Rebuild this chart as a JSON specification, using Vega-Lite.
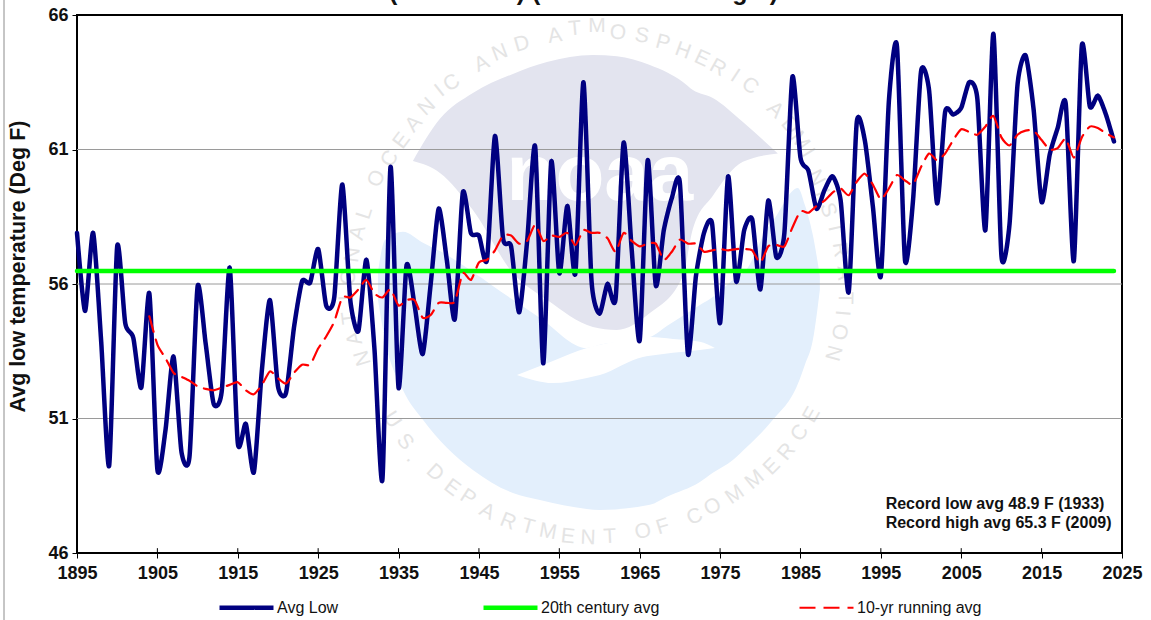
{"$schema":"https://vega.github.io/schema/vega-lite/v6.json","width":1045,"height":538,"autosize":{"type":"none"},"padding":{"left":77,"top":15,"right":29,"bottom":67},"background":"white",
"title":{"text":"(1895-2024) (Normal 56.48 deg F)","fontSize":25,"font":"Liberation Sans","fontWeight":"bold","color":"#111111","anchor":"middle","offset":-6,"dx":-16},
"config":{"view":{"stroke":"#000000","strokeWidth":2},"font":"Liberation Sans"},
"datasets":{
"blue":[{"x":1932.44,"top":56.45,"bot":55.41},{"x":1933.31,"top":57.64,"bot":53.92},{"x":1935.55,"top":57.94,"bot":52.06},{"x":1938.03,"top":57.53,"bot":50.95},{"x":1941.02,"top":57.08,"bot":49.91},{"x":1944.25,"top":56.45,"bot":49.09},{"x":1949.23,"top":55.41,"bot":48.23},{"x":1952.59,"top":54.74,"bot":47.97},{"x":1958.43,"top":53.62,"bot":47.64},{"x":1960.05,"top":53.74,"bot":47.6},{"x":1966.27,"top":54.03,"bot":47.79},{"x":1968.38,"top":54.44,"bot":48.09},{"x":1972.49,"top":55.22,"bot":48.64},{"x":1974.1,"top":55.52,"bot":48.98},{"x":1976.59,"top":56.15,"bot":49.46},{"x":1978.33,"top":56.56,"bot":49.94},{"x":1980.82,"top":58.05,"bot":50.69},{"x":1981.57,"top":58.34,"bot":50.95},{"x":1984.68,"top":59.57,"bot":52.29},{"x":1985.55,"top":58.94,"bot":53.0},{"x":1986.54,"top":57.82,"bot":53.92},{"x":1987.41,"top":56.3,"bot":55.78}],
"bird":[{"x":1949.73,"top":52.62,"bot":52.62},{"x":1954.2,"top":53.14,"bot":52.32},{"x":1958.43,"top":53.62,"bot":52.51},{"x":1960.05,"top":53.74,"bot":52.62},{"x":1965.4,"top":53.99,"bot":53.29},{"x":1966.27,"top":54.03,"bot":53.33},{"x":1969.13,"top":53.96,"bot":53.44},{"x":1972.49,"top":53.85,"bot":53.55},{"x":1974.35,"top":53.62,"bot":53.62}],
"dome":[{"x":1936.79,"top":60.57,"bot":60.57},{"x":1940.15,"top":62.14,"bot":60.13},{"x":1944.25,"top":63.1,"bot":58.75},{"x":1949.23,"top":63.81,"bot":56.41},{"x":1953.46,"top":64.25,"bot":55.41},{"x":1959.18,"top":64.51,"bot":54.4},{"x":1962.16,"top":64.47,"bot":54.29},{"x":1966.27,"top":64.14,"bot":54.92},{"x":1970.37,"top":63.51,"bot":56.3},{"x":1971.62,"top":63.21,"bot":58.05},{"x":1974.1,"top":62.91,"bot":59.28},{"x":1977.84,"top":62.02,"bot":60.54},{"x":1982.19,"top":60.85,"bot":60.85}],
"ring":[{"c":"N","x":1930.57,"y":53.25,"r":-107},{"c":"A","x":1929.58,"y":54.0,"r":-102},{"c":"T","x":1928.95,"y":54.74,"r":-97},{"c":"I","x":1928.58,"y":55.48,"r":-92},{"c":"O","x":1928.83,"y":56.26,"r":-87},{"c":"N","x":1929.33,"y":57.08,"r":-82},{"c":"A","x":1929.95,"y":57.9,"r":-77},{"c":"L","x":1930.82,"y":58.64,"r":-72},{"c":"O","x":1932.31,"y":59.91,"r":-63},{"c":"C","x":1933.93,"y":60.65,"r":-58},{"c":"E","x":1935.42,"y":61.32,"r":-53},{"c":"A","x":1936.92,"y":61.95,"r":-48},{"c":"N","x":1938.53,"y":62.58,"r":-43},{"c":"I","x":1940.15,"y":63.18,"r":-38},{"c":"C","x":1941.64,"y":63.47,"r":-33},{"c":"A","x":1945.37,"y":64.18,"r":-25},{"c":"N","x":1947.61,"y":64.59,"r":-21},{"c":"D","x":1950.35,"y":64.92,"r":-16},{"c":"A","x":1954.45,"y":65.22,"r":-9},{"c":"T","x":1956.94,"y":65.48,"r":-5},{"c":"M","x":1959.68,"y":65.59,"r":0},{"c":"O","x":1962.29,"y":65.33,"r":5},{"c":"S","x":1965.27,"y":65.22,"r":10},{"c":"P","x":1967.89,"y":64.96,"r":15},{"c":"H","x":1970.37,"y":64.66,"r":20},{"c":"E","x":1972.74,"y":64.37,"r":25},{"c":"R","x":1974.73,"y":64.03,"r":29},{"c":"I","x":1976.84,"y":63.73,"r":33},{"c":"C","x":1978.71,"y":63.36,"r":37},{"c":"A","x":1981.82,"y":62.47,"r":44},{"c":"D","x":1983.68,"y":61.88,"r":49},{"c":"M","x":1984.92,"y":61.32,"r":54},{"c":"I","x":1985.92,"y":60.87,"r":58},{"c":"N","x":1986.92,"y":59.94,"r":63},{"c":"I","x":1987.66,"y":59.39,"r":67},{"c":"S","x":1988.41,"y":58.75,"r":72},{"c":"T","x":1989.28,"y":58.08,"r":77},{"c":"R","x":1989.9,"y":57.27,"r":81},{"c":"A","x":1990.4,"y":56.41,"r":86},{"c":"T","x":1990.52,"y":55.48,"r":91},{"c":"I","x":1990.15,"y":54.92,"r":95},{"c":"O","x":1989.78,"y":54.22,"r":100},{"c":"N","x":1989.03,"y":53.44,"r":105},{"c":"U","x":1934.18,"y":50.95,"r":57},{"c":"S","x":1935.8,"y":50.13,"r":50},{"c":".","x":1936.67,"y":49.57,"r":47},{"c":"D","x":1939.53,"y":48.98,"r":42},{"c":"E","x":1941.64,"y":48.42,"r":37},{"c":"P","x":1943.63,"y":48.05,"r":33},{"c":"A","x":1946.0,"y":47.53,"r":28},{"c":"R","x":1948.61,"y":47.16,"r":22},{"c":"T","x":1951.09,"y":46.97,"r":15},{"c":"M","x":1953.58,"y":46.79,"r":10},{"c":"E","x":1956.07,"y":46.6,"r":6},{"c":"N","x":1958.56,"y":46.56,"r":2},{"c":"T","x":1961.29,"y":46.6,"r":-3},{"c":"O","x":1965.4,"y":46.79,"r":-12},{"c":"F","x":1967.89,"y":46.97,"r":-17},{"c":"C","x":1971.87,"y":47.34,"r":-25},{"c":"O","x":1974.1,"y":47.71,"r":-30},{"c":"M","x":1976.84,"y":48.16,"r":-35},{"c":"M","x":1979.33,"y":48.72,"r":-40},{"c":"E","x":1981.44,"y":49.2,"r":-45},{"c":"R","x":1983.31,"y":49.76,"r":-50},{"c":"C","x":1984.93,"y":50.46,"r":-55},{"c":"E","x":1986.42,"y":51.13,"r":-60}],
"series":[
{"year":1895,"s":"Avg Low","v":57.9},{"year":1896,"s":"Avg Low","v":55.0},{"year":1897,"s":"Avg Low","v":57.9},{"year":1898,"s":"Avg Low","v":53.9},{"year":1899,"s":"Avg Low","v":49.25},{"year":1900,"s":"Avg Low","v":57.4},{"year":1901,"s":"Avg Low","v":54.55},{"year":1902,"s":"Avg Low","v":54.0},{"year":1903,"s":"Avg Low","v":52.15},{"year":1904,"s":"Avg Low","v":55.65},{"year":1905,"s":"Avg Low","v":49.1},{"year":1906,"s":"Avg Low","v":50.55},{"year":1907,"s":"Avg Low","v":53.3},{"year":1908,"s":"Avg Low","v":49.75},{"year":1909,"s":"Avg Low","v":49.6},{"year":1910,"s":"Avg Low","v":55.9},{"year":1911,"s":"Avg Low","v":53.8},{"year":1912,"s":"Avg Low","v":51.55},{"year":1913,"s":"Avg Low","v":52.0},{"year":1914,"s":"Avg Low","v":56.6},{"year":1915,"s":"Avg Low","v":50.1},{"year":1916,"s":"Avg Low","v":50.8},{"year":1917,"s":"Avg Low","v":49.0},{"year":1918,"s":"Avg Low","v":52.8},{"year":1919,"s":"Avg Low","v":55.4},{"year":1920,"s":"Avg Low","v":52.2},{"year":1921,"s":"Avg Low","v":51.95},{"year":1922,"s":"Avg Low","v":54.4},{"year":1923,"s":"Avg Low","v":56.1},{"year":1924,"s":"Avg Low","v":56.05},{"year":1925,"s":"Avg Low","v":57.3},{"year":1926,"s":"Avg Low","v":55.2},{"year":1927,"s":"Avg Low","v":55.5},{"year":1928,"s":"Avg Low","v":59.7},{"year":1929,"s":"Avg Low","v":55.4},{"year":1930,"s":"Avg Low","v":54.25},{"year":1931,"s":"Avg Low","v":56.9},{"year":1932,"s":"Avg Low","v":53.6},{"year":1933,"s":"Avg Low","v":48.75},{"year":1934,"s":"Avg Low","v":60.35},{"year":1935,"s":"Avg Low","v":52.15},{"year":1936,"s":"Avg Low","v":56.7},{"year":1937,"s":"Avg Low","v":55.2},{"year":1938,"s":"Avg Low","v":53.4},{"year":1939,"s":"Avg Low","v":56.0},{"year":1940,"s":"Avg Low","v":58.8},{"year":1941,"s":"Avg Low","v":56.9},{"year":1942,"s":"Avg Low","v":54.7},{"year":1943,"s":"Avg Low","v":59.4},{"year":1944,"s":"Avg Low","v":57.9},{"year":1945,"s":"Avg Low","v":57.8},{"year":1946,"s":"Avg Low","v":56.9},{"year":1947,"s":"Avg Low","v":61.5},{"year":1948,"s":"Avg Low","v":57.7},{"year":1949,"s":"Avg Low","v":57.4},{"year":1950,"s":"Avg Low","v":54.95},{"year":1951,"s":"Avg Low","v":57.6},{"year":1952,"s":"Avg Low","v":61.1},{"year":1953,"s":"Avg Low","v":53.05},{"year":1954,"s":"Avg Low","v":60.55},{"year":1955,"s":"Avg Low","v":56.4},{"year":1956,"s":"Avg Low","v":58.9},{"year":1957,"s":"Avg Low","v":56.4},{"year":1958,"s":"Avg Low","v":63.5},{"year":1959,"s":"Avg Low","v":56.15},{"year":1960,"s":"Avg Low","v":54.9},{"year":1961,"s":"Avg Low","v":56.0},{"year":1962,"s":"Avg Low","v":55.45},{"year":1963,"s":"Avg Low","v":61.25},{"year":1964,"s":"Avg Low","v":57.3},{"year":1965,"s":"Avg Low","v":53.9},{"year":1966,"s":"Avg Low","v":60.6},{"year":1967,"s":"Avg Low","v":55.95},{"year":1968,"s":"Avg Low","v":58.0},{"year":1969,"s":"Avg Low","v":59.2},{"year":1970,"s":"Avg Low","v":59.75},{"year":1971,"s":"Avg Low","v":53.4},{"year":1972,"s":"Avg Low","v":56.3},{"year":1973,"s":"Avg Low","v":57.9},{"year":1974,"s":"Avg Low","v":58.25},{"year":1975,"s":"Avg Low","v":54.55},{"year":1976,"s":"Avg Low","v":60.0},{"year":1977,"s":"Avg Low","v":56.1},{"year":1978,"s":"Avg Low","v":58.0},{"year":1979,"s":"Avg Low","v":58.4},{"year":1980,"s":"Avg Low","v":55.8},{"year":1981,"s":"Avg Low","v":59.1},{"year":1982,"s":"Avg Low","v":57.0},{"year":1983,"s":"Avg Low","v":57.9},{"year":1984,"s":"Avg Low","v":63.7},{"year":1985,"s":"Avg Low","v":60.7},{"year":1986,"s":"Avg Low","v":60.2},{"year":1987,"s":"Avg Low","v":58.8},{"year":1988,"s":"Avg Low","v":59.5},{"year":1989,"s":"Avg Low","v":60.0},{"year":1990,"s":"Avg Low","v":59.1},{"year":1991,"s":"Avg Low","v":55.7},{"year":1992,"s":"Avg Low","v":62.0},{"year":1993,"s":"Avg Low","v":61.35},{"year":1994,"s":"Avg Low","v":58.9},{"year":1995,"s":"Avg Low","v":56.3},{"year":1996,"s":"Avg Low","v":62.8},{"year":1997,"s":"Avg Low","v":64.85},{"year":1998,"s":"Avg Low","v":56.9},{"year":1999,"s":"Avg Low","v":59.1},{"year":2000,"s":"Avg Low","v":63.9},{"year":2001,"s":"Avg Low","v":63.2},{"year":2002,"s":"Avg Low","v":59.0},{"year":2003,"s":"Avg Low","v":62.4},{"year":2004,"s":"Avg Low","v":62.3},{"year":2005,"s":"Avg Low","v":62.55},{"year":2006,"s":"Avg Low","v":63.5},{"year":2007,"s":"Avg Low","v":62.9},{"year":2008,"s":"Avg Low","v":58.0},{"year":2009,"s":"Avg Low","v":65.3},{"year":2010,"s":"Avg Low","v":57.05},{"year":2011,"s":"Avg Low","v":58.2},{"year":2012,"s":"Avg Low","v":63.4},{"year":2013,"s":"Avg Low","v":64.5},{"year":2014,"s":"Avg Low","v":62.5},{"year":2015,"s":"Avg Low","v":59.05},{"year":2016,"s":"Avg Low","v":60.8},{"year":2017,"s":"Avg Low","v":61.8},{"year":2018,"s":"Avg Low","v":62.7},{"year":2019,"s":"Avg Low","v":56.85},{"year":2020,"s":"Avg Low","v":64.85},{"year":2021,"s":"Avg Low","v":62.6},{"year":2022,"s":"Avg Low","v":63.0},{"year":2023,"s":"Avg Low","v":62.3},{"year":2024,"s":"Avg Low","v":61.3},
{"year":1895,"s":"20th century avg","v":56.48},{"year":2024,"s":"20th century avg","v":56.48},
{"year":1904,"s":"10-yr running avg","v":54.8},{"year":1905,"s":"10-yr running avg","v":53.75},{"year":1906,"s":"10-yr running avg","v":53.25},{"year":1907,"s":"10-yr running avg","v":52.7},{"year":1908,"s":"10-yr running avg","v":52.55},{"year":1909,"s":"10-yr running avg","v":52.4},{"year":1910,"s":"10-yr running avg","v":52.2},{"year":1911,"s":"10-yr running avg","v":52.1},{"year":1912,"s":"10-yr running avg","v":52.05},{"year":1913,"s":"10-yr running avg","v":52.15},{"year":1914,"s":"10-yr running avg","v":52.25},{"year":1915,"s":"10-yr running avg","v":52.35},{"year":1916,"s":"10-yr running avg","v":52.05},{"year":1917,"s":"10-yr running avg","v":51.9},{"year":1918,"s":"10-yr running avg","v":52.25},{"year":1919,"s":"10-yr running avg","v":52.75},{"year":1920,"s":"10-yr running avg","v":52.5},{"year":1921,"s":"10-yr running avg","v":52.3},{"year":1922,"s":"10-yr running avg","v":52.7},{"year":1923,"s":"10-yr running avg","v":53.0},{"year":1924,"s":"10-yr running avg","v":53.0},{"year":1925,"s":"10-yr running avg","v":53.6},{"year":1926,"s":"10-yr running avg","v":54.05},{"year":1927,"s":"10-yr running avg","v":54.6},{"year":1928,"s":"10-yr running avg","v":55.5},{"year":1929,"s":"10-yr running avg","v":55.5},{"year":1930,"s":"10-yr running avg","v":55.8},{"year":1931,"s":"10-yr running avg","v":56.15},{"year":1932,"s":"10-yr running avg","v":55.65},{"year":1933,"s":"10-yr running avg","v":55.5},{"year":1934,"s":"10-yr running avg","v":55.8},{"year":1935,"s":"10-yr running avg","v":55.2},{"year":1936,"s":"10-yr running avg","v":55.4},{"year":1937,"s":"10-yr running avg","v":55.4},{"year":1938,"s":"10-yr running avg","v":54.75},{"year":1939,"s":"10-yr running avg","v":54.85},{"year":1940,"s":"10-yr running avg","v":55.3},{"year":1941,"s":"10-yr running avg","v":55.3},{"year":1942,"s":"10-yr running avg","v":55.35},{"year":1943,"s":"10-yr running avg","v":56.4},{"year":1944,"s":"10-yr running avg","v":56.15},{"year":1945,"s":"10-yr running avg","v":56.8},{"year":1946,"s":"10-yr running avg","v":56.9},{"year":1947,"s":"10-yr running avg","v":57.25},{"year":1948,"s":"10-yr running avg","v":57.8},{"year":1949,"s":"10-yr running avg","v":57.8},{"year":1950,"s":"10-yr running avg","v":57.5},{"year":1951,"s":"10-yr running avg","v":57.6},{"year":1952,"s":"10-yr running avg","v":58.2},{"year":1953,"s":"10-yr running avg","v":57.6},{"year":1954,"s":"10-yr running avg","v":57.8},{"year":1955,"s":"10-yr running avg","v":57.75},{"year":1956,"s":"10-yr running avg","v":57.9},{"year":1957,"s":"10-yr running avg","v":57.45},{"year":1958,"s":"10-yr running avg","v":58.0},{"year":1959,"s":"10-yr running avg","v":57.9},{"year":1960,"s":"10-yr running avg","v":57.9},{"year":1961,"s":"10-yr running avg","v":57.7},{"year":1962,"s":"10-yr running avg","v":57.2},{"year":1963,"s":"10-yr running avg","v":57.9},{"year":1964,"s":"10-yr running avg","v":57.6},{"year":1965,"s":"10-yr running avg","v":57.4},{"year":1966,"s":"10-yr running avg","v":57.5},{"year":1967,"s":"10-yr running avg","v":57.5},{"year":1968,"s":"10-yr running avg","v":56.9},{"year":1969,"s":"10-yr running avg","v":57.2},{"year":1970,"s":"10-yr running avg","v":57.65},{"year":1971,"s":"10-yr running avg","v":57.5},{"year":1972,"s":"10-yr running avg","v":57.5},{"year":1973,"s":"10-yr running avg","v":57.2},{"year":1974,"s":"10-yr running avg","v":57.25},{"year":1975,"s":"10-yr running avg","v":57.3},{"year":1976,"s":"10-yr running avg","v":57.25},{"year":1977,"s":"10-yr running avg","v":57.3},{"year":1978,"s":"10-yr running avg","v":57.3},{"year":1979,"s":"10-yr running avg","v":57.25},{"year":1980,"s":"10-yr running avg","v":56.8},{"year":1981,"s":"10-yr running avg","v":57.4},{"year":1982,"s":"10-yr running avg","v":57.45},{"year":1983,"s":"10-yr running avg","v":57.4},{"year":1984,"s":"10-yr running avg","v":58.1},{"year":1985,"s":"10-yr running avg","v":58.7},{"year":1986,"s":"10-yr running avg","v":58.65},{"year":1987,"s":"10-yr running avg","v":58.9},{"year":1988,"s":"10-yr running avg","v":59.1},{"year":1989,"s":"10-yr running avg","v":59.4},{"year":1990,"s":"10-yr running avg","v":59.55},{"year":1991,"s":"10-yr running avg","v":59.3},{"year":1992,"s":"10-yr running avg","v":59.8},{"year":1993,"s":"10-yr running avg","v":60.1},{"year":1994,"s":"10-yr running avg","v":59.7},{"year":1995,"s":"10-yr running avg","v":59.15},{"year":1996,"s":"10-yr running avg","v":59.55},{"year":1997,"s":"10-yr running avg","v":60.05},{"year":1998,"s":"10-yr running avg","v":59.85},{"year":1999,"s":"10-yr running avg","v":59.7},{"year":2000,"s":"10-yr running avg","v":60.35},{"year":2001,"s":"10-yr running avg","v":60.85},{"year":2002,"s":"10-yr running avg","v":60.6},{"year":2003,"s":"10-yr running avg","v":60.85},{"year":2004,"s":"10-yr running avg","v":61.35},{"year":2005,"s":"10-yr running avg","v":61.75},{"year":2006,"s":"10-yr running avg","v":61.65},{"year":2007,"s":"10-yr running avg","v":61.55},{"year":2008,"s":"10-yr running avg","v":61.85},{"year":2009,"s":"10-yr running avg","v":62.25},{"year":2010,"s":"10-yr running avg","v":61.45},{"year":2011,"s":"10-yr running avg","v":61.15},{"year":2012,"s":"10-yr running avg","v":61.55},{"year":2013,"s":"10-yr running avg","v":61.7},{"year":2014,"s":"10-yr running avg","v":61.7},{"year":2015,"s":"10-yr running avg","v":61.35},{"year":2016,"s":"10-yr running avg","v":61.0},{"year":2017,"s":"10-yr running avg","v":61.05},{"year":2018,"s":"10-yr running avg","v":61.4},{"year":2019,"s":"10-yr running avg","v":60.7},{"year":2020,"s":"10-yr running avg","v":61.45},{"year":2021,"s":"10-yr running avg","v":61.85},{"year":2022,"s":"10-yr running avg","v":61.8},{"year":2023,"s":"10-yr running avg","v":61.6},{"year":2024,"s":"10-yr running avg","v":61.45}]
},
"layer":[
{"data":{"name":"blue"},"mark":{"type":"area","color":"#e3effc","interpolate":"monotone"},"encoding":{
"x":{"field":"x","type":"quantitative","scale":{"domain":[1895,2025],"nice":false,"zero":false},"title":null,"axis":{"values":[1895,1905,1915,1925,1935,1945,1955,1965,1975,1985,1995,2005,2015,2025],"format":"d","grid":false,"domain":false,"tickColor":"#000000","tickSize":5,"labelFont":"Liberation Sans","labelFontWeight":"bold","labelFontSize":18,"labelColor":"#111111","labelPadding":6,"labelFlush":false,"labelOverlap":false}},
"y":{"field":"top","type":"quantitative","scale":{"domain":[46,66],"nice":false,"zero":false},"title":"Avg low temperature (Deg F)","axis":{"values":[46,51,56,61,66],"grid":false,"domain":false,"tickColor":"#000000","tickSize":5,"labelFont":"Liberation Sans","labelFontWeight":"bold","labelFontSize":18,"labelColor":"#111111","labelPadding":4,"titleFont":"Liberation Sans","titleFontWeight":"bold","titleFontSize":21.5,"titleColor":"#111111","titleX":-48,"titleY":251}},"y2":{"field":"bot"}}},
{"data":{"name":"bird"},"mark":{"type":"area","color":"#ffffff","interpolate":"monotone"},"encoding":{"x":{"field":"x","type":"quantitative"},"y":{"field":"top","type":"quantitative"},"y2":{"field":"bot"}}},
{"data":{"name":"dome"},"mark":{"type":"area","color":"#e3e4ef","interpolate":"monotone"},"encoding":{"x":{"field":"x","type":"quantitative"},"y":{"field":"top","type":"quantitative"},"y2":{"field":"bot"}}},
{"data":{"values":[{"x":1960.05,"y":59.13,"t":"noaa"}]},"mark":{"type":"text","font":"Liberation Sans","fontWeight":"bold","fontSize":80,"color":"#ffffff","baseline":"alphabetic","align":"center"},"encoding":{"x":{"field":"x","type":"quantitative"},"y":{"field":"y","type":"quantitative"},"text":{"field":"t"}}},
{"data":{"name":"ring"},"mark":{"type":"text","font":"Liberation Sans","fontSize":21,"color":"#e4e4e4","baseline":"middle","align":"center"},"encoding":{"x":{"field":"x","type":"quantitative"},"y":{"field":"y","type":"quantitative"},"text":{"field":"c"},"angle":{"field":"r","type":"quantitative","scale":null}}},
{"data":{"values":[{"g":51},{"g":56},{"g":61}]},"mark":{"type":"rule","color":"#9a9a9a","strokeWidth":1},"encoding":{"y":{"field":"g","type":"quantitative"}}},
{"data":{"values":[{"t":1905,"a":46,"b":46.18},{"t":1915,"a":46,"b":46.18},{"t":1925,"a":46,"b":46.18},{"t":1935,"a":46,"b":46.18},{"t":1945,"a":46,"b":46.18},{"t":1955,"a":46,"b":46.18},{"t":1965,"a":46,"b":46.18},{"t":1975,"a":46,"b":46.18},{"t":1985,"a":46,"b":46.18},{"t":1995,"a":46,"b":46.18},{"t":2005,"a":46,"b":46.18},{"t":2015,"a":46,"b":46.18}]},"mark":{"type":"rule","color":"#000000","strokeWidth":1},"encoding":{"x":{"field":"t","type":"quantitative"},"y":{"field":"a","type":"quantitative"},"y2":{"field":"b"}}},
{"data":{"name":"series"},"mark":{"type":"line","interpolate":"cardinal","tension":0.35,"strokeCap":"round","strokeJoin":"round"},"encoding":{
"x":{"field":"year","type":"quantitative"},
"y":{"field":"v","type":"quantitative"},
"color":{"field":"s","type":"nominal","scale":{"domain":["Avg Low","20th century avg","10-yr running avg"],"range":["#000080","#00ff00","#ff0000"]},"legend":{"title":null,"orient":"none","legendX":140,"legendY":563,"direction":"horizontal","columns":3,"columnPadding":135,"symbolType":"stroke","symbolSize":2916,"labelFont":"Liberation Sans","labelFontSize":16,"labelColor":"#111111","labelOffset":1}},
"strokeWidth":{"field":"s","type":"nominal","scale":{"type":"ordinal","domain":["Avg Low","20th century avg","10-yr running avg"],"range":[4.5,4.5,2.2]},"legend":{"title":null,"orient":"none","legendX":140,"legendY":563,"direction":"horizontal","columns":3,"columnPadding":135,"symbolType":"stroke","symbolSize":2916,"labelFont":"Liberation Sans","labelFontSize":16,"labelColor":"#111111","labelOffset":1}},
"strokeDash":{"field":"s","type":"nominal","scale":{"domain":["Avg Low","20th century avg","10-yr running avg"],"range":[[1,0],[1,0],[16,8]]},"legend":{"title":null,"orient":"none","legendX":140,"legendY":563,"direction":"horizontal","columns":3,"columnPadding":135,"symbolType":"stroke","symbolSize":2916,"labelFont":"Liberation Sans","labelFontSize":16,"labelColor":"#111111","labelOffset":1}}
}},
{"data":{"values":[{"x":1995.6,"y":47.82,"t":"Record low avg 48.9 F (1933)"},{"x":1995.6,"y":47.11,"t":"Record high avg 65.3 F (2009)"}]},"mark":{"type":"text","font":"Liberation Sans","fontWeight":"bold","fontSize":16,"color":"#111111","baseline":"middle","align":"left"},"encoding":{"x":{"field":"x","type":"quantitative"},"y":{"field":"y","type":"quantitative"},"text":{"field":"t"}}},
{"data":{"values":[{"x":1885.92,"y":43.5,"y2":66.56}]},"mark":{"type":"rule","color":"#8c8c8c","strokeWidth":1},"encoding":{"x":{"field":"x","type":"quantitative"},"y":{"field":"y","type":"quantitative"},"y2":{"field":"y2"}}}
]}
